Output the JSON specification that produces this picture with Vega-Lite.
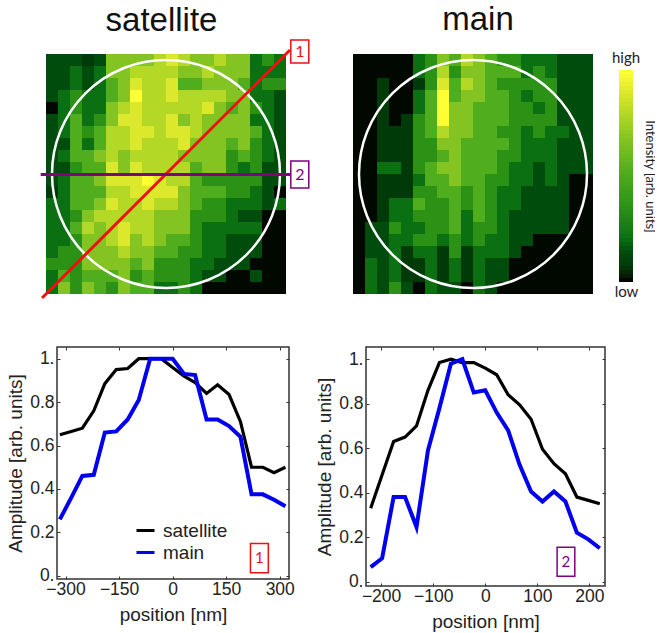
{"$schema":"https://vega.github.io/schema/vega-lite/v6.json","background":"white","padding":{"left":5,"top":4,"right":0,"bottom":0},
"config":{"view":{"stroke":null},"axis":{"labelFont":"Liberation Sans","titleFont":"Liberation Sans","labelColor":"#222","titleColor":"#222","labelFontSize":17.5,"titleFontSize":19,"titleFontWeight":"normal","grid":false,"domain":false,"tickColor":"#333"},"title":{"font":"Liberation Sans","fontSize":33,"fontWeight":"normal","color":"#111","baseline":"alphabetic"}},
"datasets":{
"sat":[{"c":0,"r":0,"v":2},{"c":1,"r":0,"v":2},{"c":2,"r":0,"v":2},{"c":3,"r":0,"v":1},{"c":4,"r":0,"v":2},{"c":5,"r":0,"v":6},{"c":6,"r":0,"v":6},{"c":7,"r":0,"v":6},{"c":8,"r":0,"v":6},{"c":9,"r":0,"v":7},{"c":10,"r":0,"v":8},{"c":11,"r":0,"v":7},{"c":12,"r":0,"v":6},{"c":13,"r":0,"v":6},{"c":14,"r":0,"v":7},{"c":15,"r":0,"v":6},{"c":16,"r":0,"v":6},{"c":17,"r":0,"v":3},{"c":18,"r":0,"v":4},{"c":19,"r":0,"v":3},
{"c":0,"r":1,"v":2},{"c":1,"r":1,"v":2},{"c":2,"r":1,"v":3},{"c":3,"r":1,"v":2},{"c":4,"r":1,"v":3},{"c":5,"r":1,"v":6},{"c":6,"r":1,"v":6},{"c":7,"r":1,"v":7},{"c":8,"r":1,"v":7},{"c":9,"r":1,"v":7},{"c":10,"r":1,"v":7},{"c":11,"r":1,"v":6},{"c":12,"r":1,"v":6},{"c":13,"r":1,"v":7},{"c":14,"r":1,"v":6},{"c":15,"r":1,"v":6},{"c":16,"r":1,"v":6},{"c":17,"r":1,"v":3},{"c":18,"r":1,"v":3},{"c":19,"r":1,"v":3},
{"c":0,"r":2,"v":2},{"c":1,"r":2,"v":2},{"c":2,"r":2,"v":3},{"c":3,"r":2,"v":2},{"c":4,"r":2,"v":3},{"c":5,"r":2,"v":5},{"c":6,"r":2,"v":6},{"c":7,"r":2,"v":8},{"c":8,"r":2,"v":7},{"c":9,"r":2,"v":7},{"c":10,"r":2,"v":8},{"c":11,"r":2,"v":5},{"c":12,"r":2,"v":5},{"c":13,"r":2,"v":6},{"c":14,"r":2,"v":6},{"c":15,"r":2,"v":6},{"c":16,"r":2,"v":5},{"c":17,"r":2,"v":3},{"c":18,"r":2,"v":4},{"c":19,"r":2,"v":4},
{"c":0,"r":3,"v":2},{"c":1,"r":3,"v":3},{"c":2,"r":3,"v":4},{"c":3,"r":3,"v":3},{"c":4,"r":3,"v":3},{"c":5,"r":3,"v":5},{"c":6,"r":3,"v":6},{"c":7,"r":3,"v":9},{"c":8,"r":3,"v":7},{"c":9,"r":3,"v":7},{"c":10,"r":3,"v":8},{"c":11,"r":3,"v":7},{"c":12,"r":3,"v":7},{"c":13,"r":3,"v":7},{"c":14,"r":3,"v":7},{"c":15,"r":3,"v":6},{"c":16,"r":3,"v":6},{"c":17,"r":3,"v":3},{"c":18,"r":3,"v":3},{"c":19,"r":3,"v":2},
{"c":0,"r":4,"v":0},{"c":1,"r":4,"v":3},{"c":2,"r":4,"v":4},{"c":3,"r":4,"v":3},{"c":4,"r":4,"v":3},{"c":5,"r":4,"v":6},{"c":6,"r":4,"v":7},{"c":7,"r":4,"v":8},{"c":8,"r":4,"v":7},{"c":9,"r":4,"v":7},{"c":10,"r":4,"v":7},{"c":11,"r":4,"v":7},{"c":12,"r":4,"v":7},{"c":13,"r":4,"v":8},{"c":14,"r":4,"v":6},{"c":15,"r":4,"v":5},{"c":16,"r":4,"v":6},{"c":17,"r":4,"v":4},{"c":18,"r":4,"v":3},{"c":19,"r":4,"v":2},
{"c":0,"r":5,"v":2},{"c":1,"r":5,"v":3},{"c":2,"r":5,"v":5},{"c":3,"r":5,"v":3},{"c":4,"r":5,"v":4},{"c":5,"r":5,"v":6},{"c":6,"r":5,"v":8},{"c":7,"r":5,"v":8},{"c":8,"r":5,"v":7},{"c":9,"r":5,"v":7},{"c":10,"r":5,"v":8},{"c":11,"r":5,"v":6},{"c":12,"r":5,"v":7},{"c":13,"r":5,"v":6},{"c":14,"r":5,"v":6},{"c":15,"r":5,"v":6},{"c":16,"r":5,"v":6},{"c":17,"r":5,"v":3},{"c":18,"r":5,"v":3},{"c":19,"r":5,"v":2},
{"c":0,"r":6,"v":2},{"c":1,"r":6,"v":3},{"c":2,"r":6,"v":5},{"c":3,"r":6,"v":4},{"c":4,"r":6,"v":5},{"c":5,"r":6,"v":7},{"c":6,"r":6,"v":7},{"c":7,"r":6,"v":8},{"c":8,"r":6,"v":8},{"c":9,"r":6,"v":7},{"c":10,"r":6,"v":8},{"c":11,"r":6,"v":8},{"c":12,"r":6,"v":7},{"c":13,"r":6,"v":6},{"c":14,"r":6,"v":6},{"c":15,"r":6,"v":6},{"c":16,"r":6,"v":6},{"c":17,"r":6,"v":5},{"c":18,"r":6,"v":3},{"c":19,"r":6,"v":2},
{"c":0,"r":7,"v":2},{"c":1,"r":7,"v":2},{"c":2,"r":7,"v":5},{"c":3,"r":7,"v":3},{"c":4,"r":7,"v":5},{"c":5,"r":7,"v":7},{"c":6,"r":7,"v":7},{"c":7,"r":7,"v":8},{"c":8,"r":7,"v":7},{"c":9,"r":7,"v":7},{"c":10,"r":7,"v":7},{"c":11,"r":7,"v":8},{"c":12,"r":7,"v":6},{"c":13,"r":7,"v":6},{"c":14,"r":7,"v":6},{"c":15,"r":7,"v":5},{"c":16,"r":7,"v":6},{"c":17,"r":7,"v":4},{"c":18,"r":7,"v":3},{"c":19,"r":7,"v":2},
{"c":0,"r":8,"v":2},{"c":1,"r":8,"v":3},{"c":2,"r":8,"v":5},{"c":3,"r":8,"v":5},{"c":4,"r":8,"v":6},{"c":5,"r":8,"v":7},{"c":6,"r":8,"v":6},{"c":7,"r":8,"v":7},{"c":8,"r":8,"v":7},{"c":9,"r":8,"v":7},{"c":10,"r":8,"v":7},{"c":11,"r":8,"v":6},{"c":12,"r":8,"v":6},{"c":13,"r":8,"v":6},{"c":14,"r":8,"v":6},{"c":15,"r":8,"v":4},{"c":16,"r":8,"v":5},{"c":17,"r":8,"v":4},{"c":18,"r":8,"v":3},{"c":19,"r":8,"v":2},
{"c":0,"r":9,"v":2},{"c":1,"r":9,"v":2},{"c":2,"r":9,"v":4},{"c":3,"r":9,"v":5},{"c":4,"r":9,"v":5},{"c":5,"r":9,"v":8},{"c":6,"r":9,"v":6},{"c":7,"r":9,"v":8},{"c":8,"r":9,"v":7},{"c":9,"r":9,"v":7},{"c":10,"r":9,"v":7},{"c":11,"r":9,"v":7},{"c":12,"r":9,"v":5},{"c":13,"r":9,"v":6},{"c":14,"r":9,"v":6},{"c":15,"r":9,"v":4},{"c":16,"r":9,"v":3},{"c":17,"r":9,"v":4},{"c":18,"r":9,"v":2},{"c":19,"r":9,"v":2},
{"c":0,"r":10,"v":2},{"c":1,"r":10,"v":3},{"c":2,"r":10,"v":5},{"c":3,"r":10,"v":5},{"c":4,"r":10,"v":6},{"c":5,"r":10,"v":8},{"c":6,"r":10,"v":8},{"c":7,"r":10,"v":8},{"c":8,"r":10,"v":9},{"c":9,"r":10,"v":8},{"c":10,"r":10,"v":7},{"c":11,"r":10,"v":7},{"c":12,"r":10,"v":5},{"c":13,"r":10,"v":4},{"c":14,"r":10,"v":4},{"c":15,"r":10,"v":4},{"c":16,"r":10,"v":4},{"c":17,"r":10,"v":4},{"c":18,"r":10,"v":2},{"c":19,"r":10,"v":2},
{"c":0,"r":11,"v":1},{"c":1,"r":11,"v":3},{"c":2,"r":11,"v":5},{"c":3,"r":11,"v":5},{"c":4,"r":11,"v":5},{"c":5,"r":11,"v":7},{"c":6,"r":11,"v":7},{"c":7,"r":11,"v":8},{"c":8,"r":11,"v":8},{"c":9,"r":11,"v":8},{"c":10,"r":11,"v":8},{"c":11,"r":11,"v":6},{"c":12,"r":11,"v":5},{"c":13,"r":11,"v":5},{"c":14,"r":11,"v":5},{"c":15,"r":11,"v":4},{"c":16,"r":11,"v":4},{"c":17,"r":11,"v":3},{"c":18,"r":11,"v":2},{"c":19,"r":11,"v":0},
{"c":0,"r":12,"v":3},{"c":1,"r":12,"v":3},{"c":2,"r":12,"v":5},{"c":3,"r":12,"v":5},{"c":4,"r":12,"v":6},{"c":5,"r":12,"v":8},{"c":6,"r":12,"v":7},{"c":7,"r":12,"v":7},{"c":8,"r":12,"v":8},{"c":9,"r":12,"v":7},{"c":10,"r":12,"v":7},{"c":11,"r":12,"v":6},{"c":12,"r":12,"v":5},{"c":13,"r":12,"v":4},{"c":14,"r":12,"v":4},{"c":15,"r":12,"v":3},{"c":16,"r":12,"v":3},{"c":17,"r":12,"v":3},{"c":18,"r":12,"v":2},{"c":19,"r":12,"v":3},
{"c":0,"r":13,"v":3},{"c":1,"r":13,"v":3},{"c":2,"r":13,"v":4},{"c":3,"r":13,"v":6},{"c":4,"r":13,"v":7},{"c":5,"r":13,"v":7},{"c":6,"r":13,"v":7},{"c":7,"r":13,"v":7},{"c":8,"r":13,"v":7},{"c":9,"r":13,"v":6},{"c":10,"r":13,"v":6},{"c":11,"r":13,"v":6},{"c":12,"r":13,"v":4},{"c":13,"r":13,"v":4},{"c":14,"r":13,"v":4},{"c":15,"r":13,"v":3},{"c":16,"r":13,"v":2},{"c":17,"r":13,"v":2},{"c":18,"r":13,"v":0},{"c":19,"r":13,"v":0},
{"c":0,"r":14,"v":3},{"c":1,"r":14,"v":3},{"c":2,"r":14,"v":5},{"c":3,"r":14,"v":7},{"c":4,"r":14,"v":6},{"c":5,"r":14,"v":7},{"c":6,"r":14,"v":8},{"c":7,"r":14,"v":7},{"c":8,"r":14,"v":7},{"c":9,"r":14,"v":6},{"c":10,"r":14,"v":6},{"c":11,"r":14,"v":6},{"c":12,"r":14,"v":4},{"c":13,"r":14,"v":3},{"c":14,"r":14,"v":3},{"c":15,"r":14,"v":3},{"c":16,"r":14,"v":3},{"c":17,"r":14,"v":3},{"c":18,"r":14,"v":0},{"c":19,"r":14,"v":0},
{"c":0,"r":15,"v":3},{"c":1,"r":15,"v":3},{"c":2,"r":15,"v":4},{"c":3,"r":15,"v":6},{"c":4,"r":15,"v":6},{"c":5,"r":15,"v":7},{"c":6,"r":15,"v":8},{"c":7,"r":15,"v":6},{"c":8,"r":15,"v":7},{"c":9,"r":15,"v":6},{"c":10,"r":15,"v":5},{"c":11,"r":15,"v":5},{"c":12,"r":15,"v":4},{"c":13,"r":15,"v":3},{"c":14,"r":15,"v":3},{"c":15,"r":15,"v":2},{"c":16,"r":15,"v":2},{"c":17,"r":15,"v":2},{"c":18,"r":15,"v":0},{"c":19,"r":15,"v":0},
{"c":0,"r":16,"v":3},{"c":1,"r":16,"v":4},{"c":2,"r":16,"v":4},{"c":3,"r":16,"v":6},{"c":4,"r":16,"v":6},{"c":5,"r":16,"v":6},{"c":6,"r":16,"v":7},{"c":7,"r":16,"v":6},{"c":8,"r":16,"v":6},{"c":9,"r":16,"v":5},{"c":10,"r":16,"v":5},{"c":11,"r":16,"v":4},{"c":12,"r":16,"v":4},{"c":13,"r":16,"v":3},{"c":14,"r":16,"v":3},{"c":15,"r":16,"v":2},{"c":16,"r":16,"v":2},{"c":17,"r":16,"v":2},{"c":18,"r":16,"v":0},{"c":19,"r":16,"v":0},
{"c":0,"r":17,"v":4},{"c":1,"r":17,"v":4},{"c":2,"r":17,"v":4},{"c":3,"r":17,"v":6},{"c":4,"r":17,"v":6},{"c":5,"r":17,"v":6},{"c":6,"r":17,"v":6},{"c":7,"r":17,"v":5},{"c":8,"r":17,"v":6},{"c":9,"r":17,"v":4},{"c":10,"r":17,"v":4},{"c":11,"r":17,"v":4},{"c":12,"r":17,"v":3},{"c":13,"r":17,"v":3},{"c":14,"r":17,"v":2},{"c":15,"r":17,"v":2},{"c":16,"r":17,"v":2},{"c":17,"r":17,"v":0},{"c":18,"r":17,"v":0},{"c":19,"r":17,"v":0},
{"c":0,"r":18,"v":3},{"c":1,"r":18,"v":5},{"c":2,"r":18,"v":4},{"c":3,"r":18,"v":5},{"c":4,"r":18,"v":5},{"c":5,"r":18,"v":5},{"c":6,"r":18,"v":6},{"c":7,"r":18,"v":4},{"c":8,"r":18,"v":5},{"c":9,"r":18,"v":4},{"c":10,"r":18,"v":4},{"c":11,"r":18,"v":4},{"c":12,"r":18,"v":3},{"c":13,"r":18,"v":2},{"c":14,"r":18,"v":2},{"c":15,"r":18,"v":0},{"c":16,"r":18,"v":0},{"c":17,"r":18,"v":2},{"c":18,"r":18,"v":0},{"c":19,"r":18,"v":0},
{"c":0,"r":19,"v":3},{"c":1,"r":19,"v":6},{"c":2,"r":19,"v":4},{"c":3,"r":19,"v":6},{"c":4,"r":19,"v":5},{"c":5,"r":19,"v":4},{"c":6,"r":19,"v":6},{"c":7,"r":19,"v":5},{"c":8,"r":19,"v":5},{"c":9,"r":19,"v":3},{"c":10,"r":19,"v":3},{"c":11,"r":19,"v":4},{"c":12,"r":19,"v":3},{"c":13,"r":19,"v":0},{"c":14,"r":19,"v":0},{"c":15,"r":19,"v":0},{"c":16,"r":19,"v":0},{"c":17,"r":19,"v":0},{"c":18,"r":19,"v":0},{"c":19,"r":19,"v":0}],
"main":[{"c":0,"r":0,"v":0},{"c":1,"r":0,"v":0},{"c":2,"r":0,"v":0},{"c":3,"r":0,"v":0},{"c":4,"r":0,"v":0},{"c":5,"r":0,"v":3},{"c":6,"r":0,"v":4},{"c":7,"r":0,"v":6},{"c":8,"r":0,"v":5},{"c":9,"r":0,"v":7},{"c":10,"r":0,"v":6},{"c":11,"r":0,"v":5},{"c":12,"r":0,"v":4},{"c":13,"r":0,"v":4},{"c":14,"r":0,"v":3},{"c":15,"r":0,"v":3},{"c":16,"r":0,"v":3},{"c":17,"r":0,"v":2},{"c":18,"r":0,"v":2},{"c":19,"r":0,"v":2},
{"c":0,"r":1,"v":0},{"c":1,"r":1,"v":0},{"c":2,"r":1,"v":0},{"c":3,"r":1,"v":0},{"c":4,"r":1,"v":0},{"c":5,"r":1,"v":3},{"c":6,"r":1,"v":4},{"c":7,"r":1,"v":7},{"c":8,"r":1,"v":4},{"c":9,"r":1,"v":6},{"c":10,"r":1,"v":6},{"c":11,"r":1,"v":5},{"c":12,"r":1,"v":5},{"c":13,"r":1,"v":5},{"c":14,"r":1,"v":3},{"c":15,"r":1,"v":4},{"c":16,"r":1,"v":3},{"c":17,"r":1,"v":2},{"c":18,"r":1,"v":2},{"c":19,"r":1,"v":2},
{"c":0,"r":2,"v":0},{"c":1,"r":2,"v":0},{"c":2,"r":2,"v":1},{"c":3,"r":2,"v":0},{"c":4,"r":2,"v":0},{"c":5,"r":2,"v":1},{"c":6,"r":2,"v":4},{"c":7,"r":2,"v":8},{"c":8,"r":2,"v":5},{"c":9,"r":2,"v":7},{"c":10,"r":2,"v":6},{"c":11,"r":2,"v":5},{"c":12,"r":2,"v":4},{"c":13,"r":2,"v":4},{"c":14,"r":2,"v":4},{"c":15,"r":2,"v":4},{"c":16,"r":2,"v":4},{"c":17,"r":2,"v":2},{"c":18,"r":2,"v":2},{"c":19,"r":2,"v":2},
{"c":0,"r":3,"v":0},{"c":1,"r":3,"v":0},{"c":2,"r":3,"v":1},{"c":3,"r":3,"v":0},{"c":4,"r":3,"v":0},{"c":5,"r":3,"v":3},{"c":6,"r":3,"v":5},{"c":7,"r":3,"v":9},{"c":8,"r":3,"v":5},{"c":9,"r":3,"v":6},{"c":10,"r":3,"v":6},{"c":11,"r":3,"v":5},{"c":12,"r":3,"v":5},{"c":13,"r":3,"v":4},{"c":14,"r":3,"v":3},{"c":15,"r":3,"v":4},{"c":16,"r":3,"v":4},{"c":17,"r":3,"v":2},{"c":18,"r":3,"v":2},{"c":19,"r":3,"v":2},
{"c":0,"r":4,"v":0},{"c":1,"r":4,"v":0},{"c":2,"r":4,"v":1},{"c":3,"r":4,"v":0},{"c":4,"r":4,"v":0},{"c":5,"r":4,"v":3},{"c":6,"r":4,"v":5},{"c":7,"r":4,"v":9},{"c":8,"r":4,"v":6},{"c":9,"r":4,"v":6},{"c":10,"r":4,"v":5},{"c":11,"r":4,"v":5},{"c":12,"r":4,"v":5},{"c":13,"r":4,"v":4},{"c":14,"r":4,"v":4},{"c":15,"r":4,"v":3},{"c":16,"r":4,"v":4},{"c":17,"r":4,"v":2},{"c":18,"r":4,"v":2},{"c":19,"r":4,"v":2},
{"c":0,"r":5,"v":0},{"c":1,"r":5,"v":0},{"c":2,"r":5,"v":1},{"c":3,"r":5,"v":0},{"c":4,"r":5,"v":1},{"c":5,"r":5,"v":4},{"c":6,"r":5,"v":5},{"c":7,"r":5,"v":9},{"c":8,"r":5,"v":6},{"c":9,"r":5,"v":6},{"c":10,"r":5,"v":5},{"c":11,"r":5,"v":5},{"c":12,"r":5,"v":5},{"c":13,"r":5,"v":4},{"c":14,"r":5,"v":4},{"c":15,"r":5,"v":4},{"c":16,"r":5,"v":4},{"c":17,"r":5,"v":2},{"c":18,"r":5,"v":2},{"c":19,"r":5,"v":2},
{"c":0,"r":6,"v":0},{"c":1,"r":6,"v":0},{"c":2,"r":6,"v":1},{"c":3,"r":6,"v":1},{"c":4,"r":6,"v":1},{"c":5,"r":6,"v":4},{"c":6,"r":6,"v":5},{"c":7,"r":6,"v":7},{"c":8,"r":6,"v":6},{"c":9,"r":6,"v":6},{"c":10,"r":6,"v":5},{"c":11,"r":6,"v":5},{"c":12,"r":6,"v":4},{"c":13,"r":6,"v":4},{"c":14,"r":6,"v":3},{"c":15,"r":6,"v":4},{"c":16,"r":6,"v":3},{"c":17,"r":6,"v":3},{"c":18,"r":6,"v":2},{"c":19,"r":6,"v":2},
{"c":0,"r":7,"v":0},{"c":1,"r":7,"v":0},{"c":2,"r":7,"v":1},{"c":3,"r":7,"v":1},{"c":4,"r":7,"v":1},{"c":5,"r":7,"v":4},{"c":6,"r":7,"v":4},{"c":7,"r":7,"v":6},{"c":8,"r":7,"v":6},{"c":9,"r":7,"v":5},{"c":10,"r":7,"v":5},{"c":11,"r":7,"v":5},{"c":12,"r":7,"v":5},{"c":13,"r":7,"v":4},{"c":14,"r":7,"v":3},{"c":15,"r":7,"v":3},{"c":16,"r":7,"v":3},{"c":17,"r":7,"v":2},{"c":18,"r":7,"v":2},{"c":19,"r":7,"v":2},
{"c":0,"r":8,"v":0},{"c":1,"r":8,"v":0},{"c":2,"r":8,"v":1},{"c":3,"r":8,"v":1},{"c":4,"r":8,"v":1},{"c":5,"r":8,"v":4},{"c":6,"r":8,"v":4},{"c":7,"r":8,"v":5},{"c":8,"r":8,"v":6},{"c":9,"r":8,"v":5},{"c":10,"r":8,"v":5},{"c":11,"r":8,"v":5},{"c":12,"r":8,"v":4},{"c":13,"r":8,"v":4},{"c":14,"r":8,"v":3},{"c":15,"r":8,"v":3},{"c":16,"r":8,"v":3},{"c":17,"r":8,"v":2},{"c":18,"r":8,"v":2},{"c":19,"r":8,"v":2},
{"c":0,"r":9,"v":0},{"c":1,"r":9,"v":0},{"c":2,"r":9,"v":3},{"c":3,"r":9,"v":3},{"c":4,"r":9,"v":1},{"c":5,"r":9,"v":4},{"c":6,"r":9,"v":5},{"c":7,"r":9,"v":6},{"c":8,"r":9,"v":6},{"c":9,"r":9,"v":5},{"c":10,"r":9,"v":5},{"c":11,"r":9,"v":5},{"c":12,"r":9,"v":4},{"c":13,"r":9,"v":3},{"c":14,"r":9,"v":3},{"c":15,"r":9,"v":2},{"c":16,"r":9,"v":3},{"c":17,"r":9,"v":2},{"c":18,"r":9,"v":2},{"c":19,"r":9,"v":2},
{"c":0,"r":10,"v":0},{"c":1,"r":10,"v":0},{"c":2,"r":10,"v":1},{"c":3,"r":10,"v":1},{"c":4,"r":10,"v":1},{"c":5,"r":10,"v":3},{"c":6,"r":10,"v":5},{"c":7,"r":10,"v":5},{"c":8,"r":10,"v":6},{"c":9,"r":10,"v":5},{"c":10,"r":10,"v":5},{"c":11,"r":10,"v":4},{"c":12,"r":10,"v":4},{"c":13,"r":10,"v":3},{"c":14,"r":10,"v":3},{"c":15,"r":10,"v":2},{"c":16,"r":10,"v":3},{"c":17,"r":10,"v":2},{"c":18,"r":10,"v":0},{"c":19,"r":10,"v":0},
{"c":0,"r":11,"v":0},{"c":1,"r":11,"v":0},{"c":2,"r":11,"v":1},{"c":3,"r":11,"v":1},{"c":4,"r":11,"v":1},{"c":5,"r":11,"v":4},{"c":6,"r":11,"v":4},{"c":7,"r":11,"v":5},{"c":8,"r":11,"v":5},{"c":9,"r":11,"v":4},{"c":10,"r":11,"v":5},{"c":11,"r":11,"v":4},{"c":12,"r":11,"v":3},{"c":13,"r":11,"v":3},{"c":14,"r":11,"v":2},{"c":15,"r":11,"v":2},{"c":16,"r":11,"v":2},{"c":17,"r":11,"v":2},{"c":18,"r":11,"v":0},{"c":19,"r":11,"v":0},
{"c":0,"r":12,"v":0},{"c":1,"r":12,"v":0},{"c":2,"r":12,"v":1},{"c":3,"r":12,"v":3},{"c":4,"r":12,"v":3},{"c":5,"r":12,"v":5},{"c":6,"r":12,"v":4},{"c":7,"r":12,"v":4},{"c":8,"r":12,"v":5},{"c":9,"r":12,"v":4},{"c":10,"r":12,"v":5},{"c":11,"r":12,"v":4},{"c":12,"r":12,"v":3},{"c":13,"r":12,"v":3},{"c":14,"r":12,"v":2},{"c":15,"r":12,"v":2},{"c":16,"r":12,"v":2},{"c":17,"r":12,"v":2},{"c":18,"r":12,"v":0},{"c":19,"r":12,"v":0},
{"c":0,"r":13,"v":0},{"c":1,"r":13,"v":0},{"c":2,"r":13,"v":1},{"c":3,"r":13,"v":3},{"c":4,"r":13,"v":3},{"c":5,"r":13,"v":4},{"c":6,"r":13,"v":4},{"c":7,"r":13,"v":4},{"c":8,"r":13,"v":5},{"c":9,"r":13,"v":3},{"c":10,"r":13,"v":5},{"c":11,"r":13,"v":4},{"c":12,"r":13,"v":3},{"c":13,"r":13,"v":2},{"c":14,"r":13,"v":2},{"c":15,"r":13,"v":2},{"c":16,"r":13,"v":2},{"c":17,"r":13,"v":2},{"c":18,"r":13,"v":0},{"c":19,"r":13,"v":0},
{"c":0,"r":14,"v":0},{"c":1,"r":14,"v":2},{"c":2,"r":14,"v":2},{"c":3,"r":14,"v":4},{"c":4,"r":14,"v":3},{"c":5,"r":14,"v":3},{"c":6,"r":14,"v":4},{"c":7,"r":14,"v":4},{"c":8,"r":14,"v":5},{"c":9,"r":14,"v":3},{"c":10,"r":14,"v":4},{"c":11,"r":14,"v":4},{"c":12,"r":14,"v":3},{"c":13,"r":14,"v":2},{"c":14,"r":14,"v":2},{"c":15,"r":14,"v":2},{"c":16,"r":14,"v":2},{"c":17,"r":14,"v":2},{"c":18,"r":14,"v":0},{"c":19,"r":14,"v":0},
{"c":0,"r":15,"v":0},{"c":1,"r":15,"v":2},{"c":2,"r":15,"v":2},{"c":3,"r":15,"v":3},{"c":4,"r":15,"v":3},{"c":5,"r":15,"v":4},{"c":6,"r":15,"v":4},{"c":7,"r":15,"v":3},{"c":8,"r":15,"v":4},{"c":9,"r":15,"v":3},{"c":10,"r":15,"v":4},{"c":11,"r":15,"v":3},{"c":12,"r":15,"v":3},{"c":13,"r":15,"v":2},{"c":14,"r":15,"v":2},{"c":15,"r":15,"v":0},{"c":16,"r":15,"v":0},{"c":17,"r":15,"v":0},{"c":18,"r":15,"v":0},{"c":19,"r":15,"v":0},
{"c":0,"r":16,"v":0},{"c":1,"r":16,"v":2},{"c":2,"r":16,"v":2},{"c":3,"r":16,"v":3},{"c":4,"r":16,"v":1},{"c":5,"r":16,"v":3},{"c":6,"r":16,"v":3},{"c":7,"r":16,"v":1},{"c":8,"r":16,"v":4},{"c":9,"r":16,"v":1},{"c":10,"r":16,"v":3},{"c":11,"r":16,"v":3},{"c":12,"r":16,"v":3},{"c":13,"r":16,"v":2},{"c":14,"r":16,"v":0},{"c":15,"r":16,"v":0},{"c":16,"r":16,"v":0},{"c":17,"r":16,"v":0},{"c":18,"r":16,"v":0},{"c":19,"r":16,"v":0},
{"c":0,"r":17,"v":0},{"c":1,"r":17,"v":3},{"c":2,"r":17,"v":2},{"c":3,"r":17,"v":3},{"c":4,"r":17,"v":1},{"c":5,"r":17,"v":1},{"c":6,"r":17,"v":3},{"c":7,"r":17,"v":1},{"c":8,"r":17,"v":3},{"c":9,"r":17,"v":1},{"c":10,"r":17,"v":3},{"c":11,"r":17,"v":2},{"c":12,"r":17,"v":2},{"c":13,"r":17,"v":0},{"c":14,"r":17,"v":0},{"c":15,"r":17,"v":0},{"c":16,"r":17,"v":0},{"c":17,"r":17,"v":0},{"c":18,"r":17,"v":0},{"c":19,"r":17,"v":0},
{"c":0,"r":18,"v":0},{"c":1,"r":18,"v":3},{"c":2,"r":18,"v":2},{"c":3,"r":18,"v":3},{"c":4,"r":18,"v":1},{"c":5,"r":18,"v":1},{"c":6,"r":18,"v":3},{"c":7,"r":18,"v":1},{"c":8,"r":18,"v":3},{"c":9,"r":18,"v":1},{"c":10,"r":18,"v":3},{"c":11,"r":18,"v":2},{"c":12,"r":18,"v":2},{"c":13,"r":18,"v":0},{"c":14,"r":18,"v":0},{"c":15,"r":18,"v":0},{"c":16,"r":18,"v":0},{"c":17,"r":18,"v":0},{"c":18,"r":18,"v":0},{"c":19,"r":18,"v":0},
{"c":0,"r":19,"v":0},{"c":1,"r":19,"v":3},{"c":2,"r":19,"v":2},{"c":3,"r":19,"v":4},{"c":4,"r":19,"v":2},{"c":5,"r":19,"v":0},{"c":6,"r":19,"v":3},{"c":7,"r":19,"v":2},{"c":8,"r":19,"v":2},{"c":9,"r":19,"v":0},{"c":10,"r":19,"v":3},{"c":11,"r":19,"v":2},{"c":12,"r":19,"v":0},{"c":13,"r":19,"v":0},{"c":14,"r":19,"v":0},{"c":15,"r":19,"v":0},{"c":16,"r":19,"v":0},{"c":17,"r":19,"v":0},{"c":18,"r":19,"v":0},{"c":19,"r":19,"v":0}],
"bar":[{"k":0,"v":9},{"k":1,"v":8.81},{"k":2,"v":8.62},{"k":3,"v":8.42},{"k":4,"v":8.23},{"k":5,"v":8.04},{"k":6,"v":7.85},{"k":7,"v":7.65},{"k":8,"v":7.46},{"k":9,"v":7.27},{"k":10,"v":7.08},{"k":11,"v":6.9},{"k":12,"v":6.74},{"k":13,"v":6.58},{"k":14,"v":6.42},{"k":15,"v":6.27},{"k":16,"v":6.1},{"k":17,"v":5.96},{"k":18,"v":5.84},{"k":19,"v":5.72},{"k":20,"v":5.59},{"k":21,"v":5.48},{"k":22,"v":5.36},{"k":23,"v":5.24},{"k":24,"v":5.11},{"k":25,"v":4.99},{"k":26,"v":4.88},{"k":27,"v":4.77},{"k":28,"v":4.66},{"k":29,"v":4.54},{"k":30,"v":4.43},{"k":31,"v":4.32},{"k":32,"v":4.21},{"k":33,"v":4.09},{"k":34,"v":3.97},{"k":35,"v":3.85},{"k":36,"v":3.72},{"k":37,"v":3.59},{"k":38,"v":3.46},{"k":39,"v":3.33},{"k":40,"v":3.21},{"k":41,"v":3.08},{"k":42,"v":2.88},{"k":43,"v":2.6},{"k":44,"v":2.31},{"k":45,"v":2.02},{"k":46,"v":1.73},{"k":47,"v":1.44},{"k":48,"v":1.15},{"k":49,"v":0.87},{"k":50,"v":0.58},{"k":51,"v":0.29},{"k":52,"v":0}],
"p1":[{"x":-316,"y":0.65,"s":"satellite"},{"x":-284,"y":0.665,"s":"satellite"},{"x":-253,"y":0.68,"s":"satellite"},{"x":-221,"y":0.76,"s":"satellite"},{"x":-190,"y":0.885,"s":"satellite"},{"x":-158,"y":0.95,"s":"satellite"},{"x":-126,"y":0.955,"s":"satellite"},{"x":-95,"y":1,"s":"satellite"},{"x":-63,"y":1,"s":"satellite"},{"x":-32,"y":1,"s":"satellite"},{"x":0,"y":0.96,"s":"satellite"},{"x":32,"y":0.92,"s":"satellite"},{"x":63,"y":0.89,"s":"satellite"},{"x":95,"y":0.84,"s":"satellite"},{"x":126,"y":0.88,"s":"satellite"},{"x":158,"y":0.835,"s":"satellite"},{"x":190,"y":0.71,"s":"satellite"},{"x":221,"y":0.5,"s":"satellite"},{"x":253,"y":0.5,"s":"satellite"},{"x":284,"y":0.475,"s":"satellite"},{"x":316,"y":0.5,"s":"satellite"},
{"x":-316,"y":0.26,"s":"main"},{"x":-284,"y":0.36,"s":"main"},{"x":-253,"y":0.46,"s":"main"},{"x":-221,"y":0.465,"s":"main"},{"x":-190,"y":0.66,"s":"main"},{"x":-158,"y":0.665,"s":"main"},{"x":-126,"y":0.72,"s":"main"},{"x":-95,"y":0.81,"s":"main"},{"x":-63,"y":1,"s":"main"},{"x":-32,"y":1,"s":"main"},{"x":0,"y":1,"s":"main"},{"x":32,"y":0.93,"s":"main"},{"x":63,"y":0.925,"s":"main"},{"x":95,"y":0.72,"s":"main"},{"x":126,"y":0.72,"s":"main"},{"x":158,"y":0.69,"s":"main"},{"x":190,"y":0.64,"s":"main"},{"x":221,"y":0.375,"s":"main"},{"x":253,"y":0.375,"s":"main"},{"x":284,"y":0.35,"s":"main"},{"x":316,"y":0.32,"s":"main"}],
"p2":[{"x":-220,"y":0.33,"s":"satellite"},{"x":-198,"y":0.48,"s":"satellite"},{"x":-176,"y":0.63,"s":"satellite"},{"x":-154,"y":0.65,"s":"satellite"},{"x":-132,"y":0.7,"s":"satellite"},{"x":-110,"y":0.86,"s":"satellite"},{"x":-88,"y":0.985,"s":"satellite"},{"x":-66,"y":1,"s":"satellite"},{"x":-44,"y":0.985,"s":"satellite"},{"x":-22,"y":0.985,"s":"satellite"},{"x":0,"y":0.96,"s":"satellite"},{"x":22,"y":0.93,"s":"satellite"},{"x":44,"y":0.84,"s":"satellite"},{"x":66,"y":0.795,"s":"satellite"},{"x":88,"y":0.73,"s":"satellite"},{"x":110,"y":0.595,"s":"satellite"},{"x":132,"y":0.53,"s":"satellite"},{"x":154,"y":0.485,"s":"satellite"},{"x":176,"y":0.38,"s":"satellite"},{"x":198,"y":0.365,"s":"satellite"},{"x":220,"y":0.35,"s":"satellite"},
{"x":-220,"y":0.065,"s":"main"},{"x":-198,"y":0.105,"s":"main"},{"x":-176,"y":0.38,"s":"main"},{"x":-154,"y":0.38,"s":"main"},{"x":-132,"y":0.245,"s":"main"},{"x":-110,"y":0.59,"s":"main"},{"x":-88,"y":0.78,"s":"main"},{"x":-66,"y":0.98,"s":"main"},{"x":-44,"y":1,"s":"main"},{"x":-22,"y":0.85,"s":"main"},{"x":0,"y":0.86,"s":"main"},{"x":22,"y":0.76,"s":"main"},{"x":44,"y":0.68,"s":"main"},{"x":66,"y":0.525,"s":"main"},{"x":88,"y":0.405,"s":"main"},{"x":110,"y":0.36,"s":"main"},{"x":132,"y":0.405,"s":"main"},{"x":154,"y":0.36,"s":"main"},{"x":176,"y":0.22,"s":"main"},{"x":198,"y":0.19,"s":"main"},{"x":220,"y":0.15,"s":"main"}]
},
"align":"none",
"vconcat":[
{"align":"none","hconcat":[
{"align":"none","hconcat":[
{"width":229,"height":240,"title":{"text":"satellite","offset":1,"dx":-10},
"layer":[
{"data":{"name":"sat"},"mark":"rect","encoding":{"x":{"field":"c","type":"ordinal","axis":null,"scale":{"range":[-11,229]}},"y":{"field":"r","type":"ordinal","axis":null},"color":{"field":"v","type":"quantitative","legend":null,"scale":{"domain":[0,1,2,3,4,5,6,7,8,9],"range":["#000800","#003a08","#004c0c","#0b7012","#2b9216","#50ae1e","#84c422","#b3d825","#dbe82b","#ffff33"]}}}},
{"encoding":{"x":{"field":"x","type":"quantitative","scale":{"domain":[0,20],"range":[-11,229],"nice":false},"axis":null},"y":{"field":"y","type":"quantitative","scale":{"domain":[0,20],"nice":false},"axis":null}},
"layer":[
{"data":{"values":[{"x":10,"y":10}]},"mark":{"type":"point","shape":"circle","filled":false,"size":51984,"stroke":"white","strokeWidth":2.5,"opacity":1}},
{"data":{"values":[{"l":"1","x":-0.33,"y":-0.33},{"l":"1","x":20.33,"y":20.33},{"l":"2","x":-0.44,"y":9.95},{"l":"2","x":20.4,"y":9.95}]},"mark":{"type":"line","strokeWidth":3},"encoding":{"stroke":{"field":"l","type":"nominal","legend":null,"scale":{"domain":["1","2"],"range":["#ee1111","#800080"]}}}},
{"data":{"values":[{"l":"1","x":20.4,"xe":21.9,"y":19.25,"ye":21.17},{"l":"2","x":20.4,"xe":21.9,"y":8.83,"ye":11.08}]},"mark":{"type":"rect","fill":"white","strokeWidth":1.5},"encoding":{"x2":{"field":"xe"},"y2":{"field":"ye"},"stroke":{"field":"l","type":"nominal","legend":null,"scale":{"domain":["1","2"],"range":["#ee1111","#800080"]}}}},
{"data":{"values":[{"l":"1","x":21.15,"y":20.2},{"l":"2","x":21.15,"y":9.95}]},"mark":{"type":"text","font":"Lato","fontSize":16,"align":"center","baseline":"middle"},"encoding":{"text":{"field":"l"},"fill":{"field":"l","type":"nominal","legend":null,"scale":{"domain":["1","2"],"range":["#ee1111","#800080"]}}}}
]}
],"resolve":{"scale":{"x":"independent","y":"independent"}}},
{"width":240,"height":240,"title":{"text":"main","offset":17,"dx":5},
"layer":[
{"data":{"name":"main"},"mark":"rect","encoding":{"x":{"field":"c","type":"ordinal","axis":null},"y":{"field":"r","type":"ordinal","axis":null},"color":{"field":"v","type":"quantitative","legend":null,"scale":{"domain":[0,1,2,3,4,5,6,7,8,9],"range":["#000000","#003a08","#004c0c","#0b7012","#2b9216","#50ae1e","#84c422","#b3d825","#dbe82b","#ffff33"]}}}},
{"data":{"values":[{"x":10,"y":10}]},"mark":{"type":"point","shape":"circle","filled":false,"size":51984,"stroke":"white","strokeWidth":2.5,"opacity":1},"encoding":{"x":{"field":"x","type":"quantitative","scale":{"domain":[0,20],"nice":false},"axis":null},"y":{"field":"y","type":"quantitative","scale":{"domain":[0,20],"nice":false},"axis":null}}}
],"resolve":{"scale":{"x":"independent","y":"independent"}}}
],"spacing":43},
{"align":"none","vconcat":[
{"width":14,"height":1,"data":{"values":[]},"mark":{"type":"rect","opacity":0},"encoding":{}},
{"width":14,"height":212,"title":{"text":"high","font":"Lato","fontSize":15,"offset":4,"color":"#222"},
"data":{"name":"bar"},"mark":"rect","encoding":{"x":{"datum":"bar","type":"nominal","axis":{"title":"low","titleFont":"Lato","titleFontSize":15,"titlePadding":2,"labels":false,"ticks":false}},"y":{"field":"k","type":"ordinal","axis":{"orient":"right","title":"Intensity [arb. units]","titleFont":"Lato","titleFontSize":13,"titleAngle":90,"titlePadding":9,"labels":false,"ticks":false}},"color":{"field":"v","type":"quantitative","legend":null,"scale":{"domain":[0,1,2,3,4,5,6,7,8,9],"range":["#000000","#003a08","#004c0c","#0b7012","#2b9216","#50ae1e","#84c422","#b3d825","#dbe82b","#ffff33"]}}}}
],"spacing":-4}
],"spacing":18},
{"align":"none","hconcat":[
{"width":232,"height":232,"view":{"stroke":"#333","strokeWidth":1.5},
"layer":[
{"data":{"name":"p1"},"mark":{"type":"line"},"encoding":{"x":{"field":"x","type":"quantitative","scale":{"domain":[-324,326],"nice":false,"zero":false},"axis":{"values":[-300,-150,0,150,300],"title":"position [nm]","tickSize":-3,"labelPadding":4,"titlePadding":8}},"y":{"field":"y","type":"quantitative","scale":{"domain":[-0.015,1.054],"nice":false,"zero":false},"axis":{"values":[0,0.2,0.4,0.6,0.8,1],"labelExpr":"datum.value==1?'1.':datum.value==0?'0.':format(datum.value,'.1f')","title":"Amplitude [arb. units]","tickSize":-3,"labelPadding":6,"titlePadding":4}},"color":{"field":"s","type":"nominal","scale":{"domain":["satellite","main"],"range":["#000000","#0000ee"]},"legend":{"title":null,"orient":"none","legendX":78,"legendY":173,"symbolType":"stroke","symbolSize":324,"symbolStrokeWidth":3,"labelFont":"Liberation Sans","labelFontSize":19,"labelColor":"#222","rowPadding":1,"labelOffset":7}},"strokeWidth":{"field":"s","type":"nominal","legend":null,"scale":{"domain":["satellite","main"],"range":[3.2,4]}}}},
{"data":{"name":"p1"},"mark":{"type":"line","opacity":0},"encoding":{"x":{"field":"x","type":"quantitative","axis":{"orient":"top","values":[-300,-150,0,150,300],"labels":false,"title":null,"tickSize":-3}},"y":{"field":"y","type":"quantitative","axis":{"orient":"right","values":[0,0.2,0.4,0.6,0.8,1],"labels":false,"title":null,"tickSize":-3}},"detail":{"field":"s"}}},
{"data":{"values":[{"l":"1","x":218,"xe":268,"y":0.014,"ye":0.148}]},"mark":{"type":"rect","fill":"white","stroke":"#ee1111","strokeWidth":1.5},"encoding":{"x":{"field":"x","type":"quantitative","axis":null},"x2":{"field":"xe"},"y":{"field":"y","type":"quantitative","axis":null},"y2":{"field":"ye"}}},
{"data":{"values":[{"l":"1","x":243,"y":0.081}]},"mark":{"type":"text","font":"Lato","fontSize":15,"fill":"#ee1111","baseline":"middle"},"encoding":{"x":{"field":"x","type":"quantitative","axis":null},"y":{"field":"y","type":"quantitative","axis":null},"text":{"field":"l"}}}
],"resolve":{"axis":{"x":"independent","y":"independent"}}},
{"width":239,"height":239,"view":{"stroke":"#333","strokeWidth":1.5},
"layer":[
{"data":{"name":"p2"},"mark":{"type":"line"},"encoding":{"x":{"field":"x","type":"quantitative","scale":{"domain":[-229,230],"nice":false,"zero":false},"axis":{"values":[-200,-100,0,100,200],"title":"position [nm]","tickSize":-3,"labelPadding":4,"titlePadding":8}},"y":{"field":"y","type":"quantitative","scale":{"domain":[-0.02,1.055],"nice":false,"zero":false},"axis":{"values":[0,0.2,0.4,0.6,0.8,1],"labelExpr":"datum.value==1?'1.':datum.value==0?'0.':format(datum.value,'.1f')","title":"Amplitude [arb. units]","tickSize":-3,"labelPadding":6,"titlePadding":4}},"color":{"field":"s","type":"nominal","legend":null,"scale":{"domain":["satellite","main"],"range":["#000000","#0000ee"]}},"strokeWidth":{"field":"s","type":"nominal","legend":null,"scale":{"domain":["satellite","main"],"range":[3.2,4]}}}},
{"data":{"name":"p2"},"mark":{"type":"line","opacity":0},"encoding":{"x":{"field":"x","type":"quantitative","axis":{"orient":"top","values":[-200,-100,0,100,200],"labels":false,"title":null,"tickSize":-3}},"y":{"field":"y","type":"quantitative","axis":{"orient":"right","values":[0,0.2,0.4,0.6,0.8,1],"labels":false,"title":null,"tickSize":-3}},"detail":{"field":"s"}}},
{"data":{"values":[{"l":"2","x":138,"xe":172,"y":0.024,"ye":0.154}]},"mark":{"type":"rect","fill":"white","stroke":"#800080","strokeWidth":1.5},"encoding":{"x":{"field":"x","type":"quantitative","axis":null},"x2":{"field":"xe"},"y2":{"field":"ye"},"y":{"field":"y","type":"quantitative","axis":null}}},
{"data":{"values":[{"l":"2","x":155,"y":0.089}]},"mark":{"type":"text","font":"Lato","fontSize":15,"fill":"#800080","baseline":"middle"},"encoding":{"x":{"field":"x","type":"quantitative","axis":null},"y":{"field":"y","type":"quantitative","axis":null},"text":{"field":"l"}}}
],"resolve":{"axis":{"x":"independent","y":"independent"}}}
],"spacing":18,"center":true}
],"spacing":41}
